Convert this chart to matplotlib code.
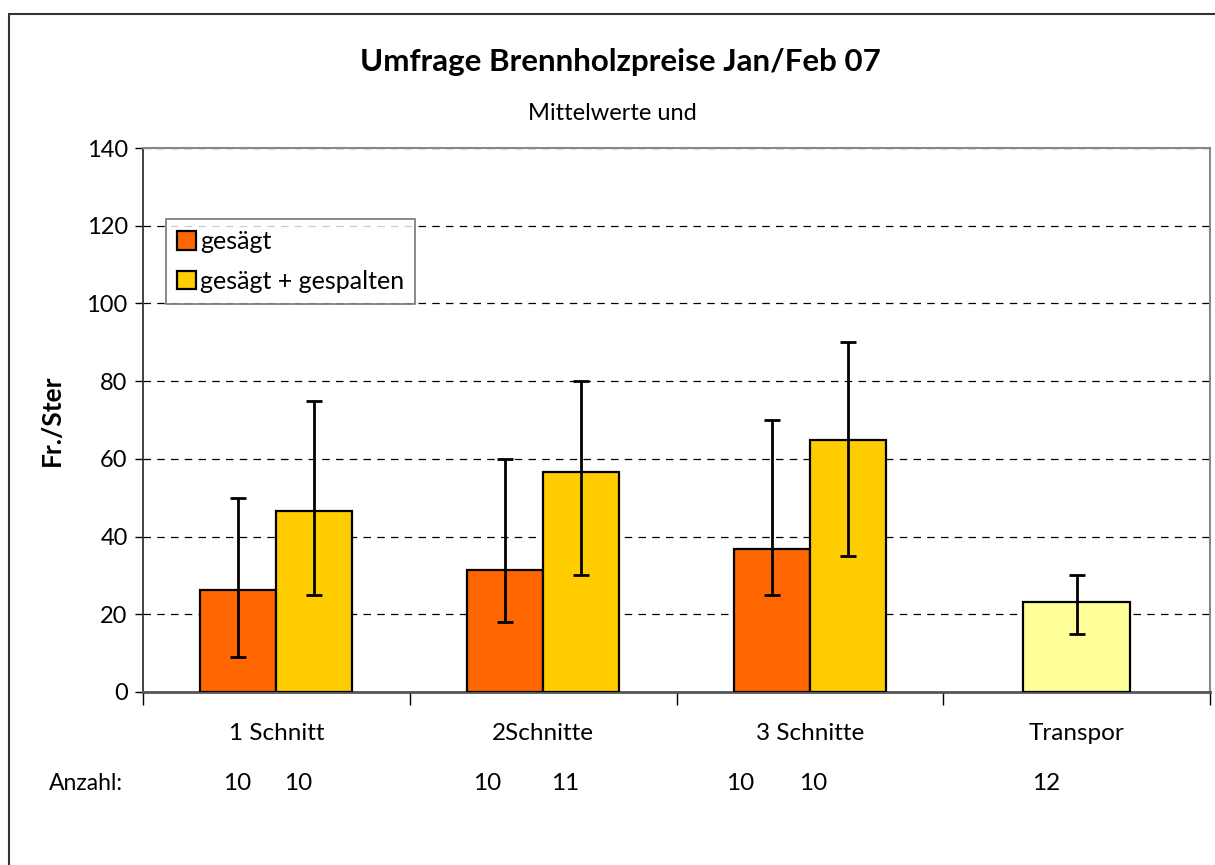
import matplotlib
matplotlib.use('Agg')
import matplotlib.pyplot as plt
import matplotlib.transforms as mtransforms
from matplotlib.patches import Rectangle
import numpy as np

plt.rcParams['font.family'] = ['Lato', 'DejaVu Sans']

# Daten
categories = ['1 Schnitt', '2Schnitte', '3 Schnitte', 'Transpor']
gesaegt = [26.2, 31.4, 36.8]
gesaegt_min = [9, 18, 25]
gesaegt_max = [50, 60, 70]
gespalten = [46.7, 56.6, 64.8]
gespalten_min = [25, 30, 35]
gespalten_max = [75, 80, 90]
transport = [23.2]
transport_min = [15]
transport_max = [30]
anzahl = ['10', '10', '10', '11', '10', '10', '12']
# x-Position der Anzahl-Texte (in Kategorie-Einheiten)
anzahl_x = [-0.148, 0.081, 0.790, 1.082, 1.738, 2.012, 2.885]

fig = plt.figure(figsize=(12.15, 8.65), dpi=100)
ax = fig.add_axes([0.1177, 0.2, 0.9959 - 0.1177, 0.8289 - 0.2])

# Rahmen um das Diagramm
fig.patches.append(Rectangle((9 / 1215, -0.1), 1.2, 1 - 14 / 865 + 0.1,
                             transform=fig.transFigure, fill=False,
                             edgecolor='#333333', linewidth=1.5))

x = np.arange(3)
w = 0.285
err_kw = dict(ecolor='black', elinewidth=2, capsize=6, capthick=2)

ax.bar(x - w / 2, gesaegt, w, color='#FF6600', edgecolor='black', linewidth=1.6,
       label='gesägt', zorder=3,
       yerr=[np.array(gesaegt) - gesaegt_min, np.array(gesaegt_max) - gesaegt],
       error_kw=err_kw)
ax.bar(x + w / 2, gespalten, w, color='#FFCC00', edgecolor='black', linewidth=1.6,
       label='gesägt + gespalten', zorder=3,
       yerr=[np.array(gespalten) - gespalten_min, np.array(gespalten_max) - gespalten],
       error_kw=err_kw)
ax.bar([3], transport, 0.403, color='#FFFF99', edgecolor='black', linewidth=1.6, zorder=3,
       yerr=[np.array(transport) - transport_min, np.array(transport_max) - transport],
       error_kw=err_kw)

ax.set_xlim(-0.5, 3.5)
ax.set_ylim(0, 140)
ax.set_yticks(np.arange(0, 141, 20))
ax.tick_params(axis='y', labelsize=17, length=6, width=1, direction='out', pad=5)
ax.set_xticks(np.arange(-0.5, 3.6, 1))
ax.set_xticklabels([])
ax.tick_params(axis='x', length=9, width=1, direction='out')

ax.yaxis.grid(True, color='black', linestyle=(0, (6, 5)), linewidth=0.9)
ax.set_axisbelow(True)

for side in ['top', 'right']:
    ax.spines[side].set_color('#888888')
    ax.spines[side].set_linewidth(1.5)
ax.spines['left'].set_color('#333333')
ax.spines['left'].set_linewidth(1.3)
ax.spines['bottom'].set_color('#555555')
ax.spines['bottom'].set_linewidth(2)

fig.text(52 / 1215, 1 - 420 / 865, 'Fr./Ster', rotation=90, ha='center', va='center',
         fontsize=19, fontweight='bold')

# Kategorien und Anzahl unter der Achse
trans = mtransforms.blended_transform_factory(ax.transData, fig.transFigure)
for i, c in enumerate(categories):
    ax.text(i, 1 - 733 / 865, c, transform=trans, ha='center', va='center', fontsize=17.5)
y_anz = 1 - 783 / 865
fig.text(86 / 1215, y_anz, 'Anzahl:', ha='center', va='center', fontsize=16.5)
for xa, a in zip(anzahl_x, anzahl):
    ax.text(xa, y_anz, a, transform=trans, ha='center', va='center', fontsize=17.5)

fig.text(620 / 1215, 1 - 62 / 865, 'Umfrage Brennholzpreise Jan/Feb 07',
         ha='center', va='center', fontsize=22.5, fontweight='bold')
fig.text(612 / 1215, 1 - 113 / 865, 'Mittelwerte und', ha='center', va='center', fontsize=17)

leg = ax.legend(loc='upper left', bbox_to_anchor=((166 - 143) / (1210 - 143), (692 - 219) / (692 - 148)),
                fontsize=18, frameon=True, fancybox=False, handlelength=0.75, handleheight=0.75,
                handletextpad=0.15, borderpad=0.45, labelspacing=0.65, borderaxespad=0)
leg.get_frame().set_edgecolor('#555555')
leg.get_frame().set_linewidth(1.2)
for p in leg.get_patches():
    p.set_linewidth(1.6)

plt.savefig('out.png', dpi=100)
